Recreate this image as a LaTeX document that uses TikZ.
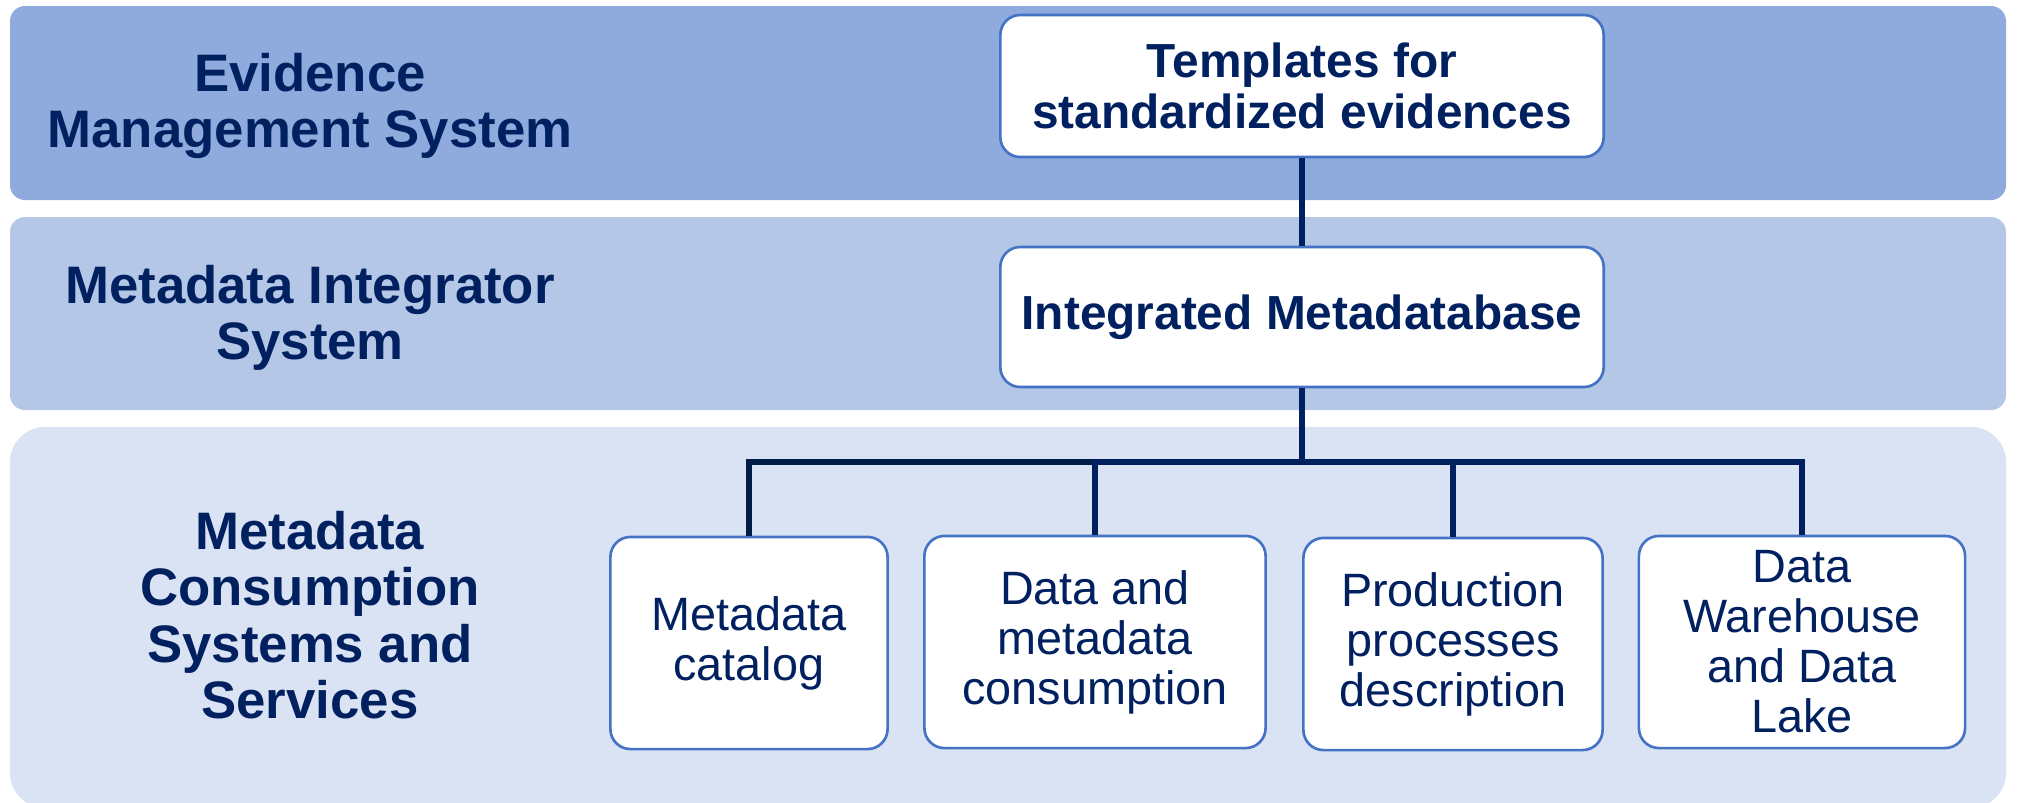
\documentclass[tikz,border=0pt]{standalone}
\usepackage{fontspec}
\setmainfont{Liberation Sans}
\definecolor{navy}{HTML}{002060}
\definecolor{darknavy}{HTML}{001E45}
\definecolor{bandA}{HTML}{8FAADC}
\definecolor{bandB}{HTML}{B4C7E7}
\definecolor{bandC}{HTML}{DAE3F3}
\definecolor{boxline}{HTML}{4472C4}

\begin{document}
\begin{tikzpicture}[x=0.01cm,y=-0.01cm,
  tier/.style={text=navy,align=center,font=\bfseries\fontsize{15}{16}\selectfont},
  box/.style={draw=boxline,line width=0.75pt,fill=white,rounded corners=0.2cm,
    text=navy,align=center,inner sep=0pt},
  head/.style={box,font=\bfseries\fontsize{13.6}{14.4}\selectfont},
  leaf/.style={box,font=\fontsize{13.3}{14.2}\selectfont,minimum height=2.12cm},
  link/.style={draw=navy,line width=1.5pt}]

\useasboundingbox (0,0) rectangle (2017,802);

% layers
\fill[bandA,rounded corners=0.15cm] (10,6) rectangle (2006,200);
\fill[bandB,rounded corners=0.15cm] (10,217) rectangle (2006,410);
\fill[bandC,rounded corners=0.35cm] (10,427) rectangle (2006,808);

% layer names
\node[tier] (ems) at (310,106) {Evidence\\Management System};
\node[tier] (mis) at (310,318) {Metadata Integrator\\System};
\node[tier] (mcs) at (310,615) {Metadata\\Consumption\\Systems and\\Services};

% upper boxes
\node[head,minimum width=6.03cm,minimum height=1.42cm] (tmpl) at (1302,86)
  {Templates for\\standardized evidences};
\node[head,minimum width=6.03cm,minimum height=1.40cm] (imdb) at (1302,317)
  {Integrated Metadatabase};

% lower boxes
\node[leaf,minimum width=2.77cm] (cat) at (749,643) {Metadata\\catalog};
\node[leaf,minimum width=3.41cm] (use) at (1095,642) {Data and\\metadata\\consumption};
\node[leaf,minimum width=2.99cm] (proc) at (1453,644) {Production\\processes\\description};
\node[leaf,minimum width=3.26cm] (dwh) at (1802,642) {Data\\Warehouse\\and Data\\Lake};

% connectors
\coordinate (bus) at (1302,462);
\draw[link] (tmpl) -- (imdb);
\draw[link] (imdb) -- (bus);
\draw[link,draw=darknavy] (cat.north) |- (bus);
\foreach \n in {use,proc,dwh}
  \draw[link] (\n.north) |- (bus);

\end{tikzpicture}
\end{document}
